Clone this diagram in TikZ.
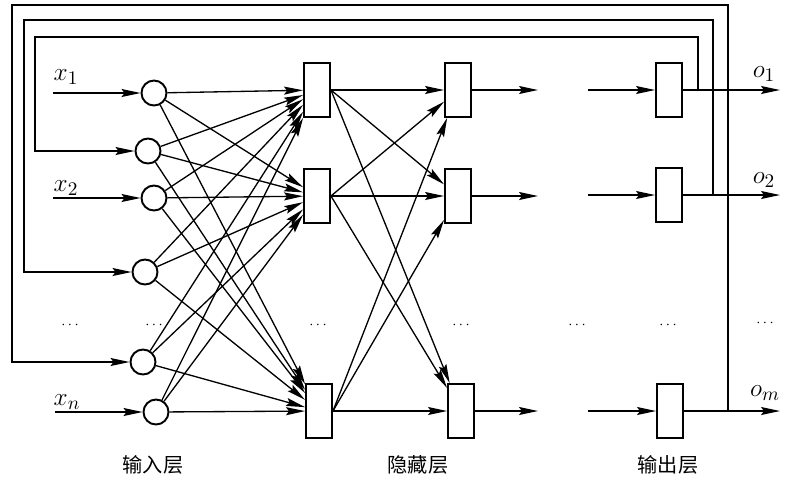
\documentclass[tikz,border=0pt]{standalone}
\usepackage{fontspec}
\newfontfamily\cjk{Noto Sans CJK SC}
\usetikzlibrary{arrows.meta}

\tikzset{
	neuron/.style={draw, circle, line width=1.1pt, minimum size=0.5cm, inner sep=0pt},
	cellbox/.style={draw, rectangle, line width=1.1pt, minimum width=0.52cm, minimum height=1.08cm, inner sep=0pt},
	link/.style={line width=0.75pt, -{Stealth[length=3.8mm,width=1.6mm,inset=0.6mm]}},
	sym/.style={font=\fontsize{15}{17}\selectfont},
	dotlabel/.style={font=\footnotesize},
	layer/.style={font=\cjk\fontsize{11.5}{13}\selectfont}
}

\begin{document}
\begin{tikzpicture}[x=0.02cm, y=-0.02cm]
	
	\useasboundingbox (0,0) rectangle (788,485);
	
	% input layer
	\node [neuron] (i1) at (154,93) {};
	\node [neuron] (i2) at (148,151) {};
	\node [neuron] (i3) at (154,198) {};
	\node [neuron] (i4) at (145,272) {};
	\node [neuron] (i5) at (143,362) {};
	\node [neuron] (i6) at (156,412) {};
	
	% hidden layers
	\node [cellbox] (h1) at (317,90) {};
	\node [cellbox] (h2) at (317,196) {};
	\node [cellbox] (h3) at (319,411) {};
	
	\node [cellbox] (g1) at (458,90) {};
	\node [cellbox] (g2) at (458,196) {};
	\node [cellbox] (g3) at (461,411) {};
	
	% output layer
	\node [cellbox] (y1) at (669,90) {};
	\node [cellbox] (y2) at (669,195) {};
	\node [cellbox] (y3) at (670,411) {};
	
	\coordinate (a1) at (53,93);
	\coordinate (a2) at (53,198);
	\coordinate (a3) at (55,412);
	
	\coordinate (e1) at (538,90);
	\coordinate (e2) at (538,196);
	\coordinate (e3) at (538,411);
	
	\coordinate (s1) at (588,90);
	\coordinate (s2) at (588,195);
	\coordinate (s3) at (588,411);
	
	\coordinate (z1) at (780,90);
	\coordinate (z2) at (780,195);
	\coordinate (z3) at (780,411);
	
	\coordinate (b1) at (698,90);
	\coordinate (b2) at (713,195);
	\coordinate (b3) at (728,411);
	
	\draw [link] (a1) -- (i1);
	\draw [link] (a2) -- (i3);
	\draw [link] (a3) -- (i6);
	
	\foreach \i in {i1,i2,i3,i4,i5,i6}
		\foreach \h in {h1,h2,h3}
			\draw [link] (\i) -- (\h);
	
	\foreach \h in {h1,h2,h3}
		\foreach \g in {g1,g2,g3}
			\draw [link] (\h.east) -- (\g);
	
	\draw [link] (g1) -- (e1);
	\draw [link] (g2) -- (e2);
	\draw [link] (g3) -- (e3);
	
	\draw [link] (s1) -- (y1);
	\draw [link] (s2) -- (y2);
	\draw [link] (s3) -- (y3);
	
	\draw [link] (y1) -- (z1);
	\draw [link] (y2) -- (z2);
	\draw [link] (y3) -- (z3);
	
	% feedback
	\draw [link] (b1) |- (35,37) |- (i2);
	\draw [link] (b2) |- (24,20) |- (i4);
	\draw [link] (b3) |- (12,5) |- (i5);
	
	\node [sym] (x1) at (66,77) {$x_1$};
	\node [sym] (x2) at (66,188) {$x_2$};
	\node [sym] (xn) at (67,402) {$x_n$};
	
	\node [sym] (o1) at (764,74) {$o_1$};
	\node [sym] (o2) at (764,180) {$o_2$};
	\node [sym] (om) at (765,393) {$o_m$};
	
	\node [dotlabel] (d1) at (70,325) {$\cdots$};
	\node [dotlabel] (d2) at (154,325) {$\cdots$};
	\node [dotlabel] (d3) at (318,325) {$\cdots$};
	\node [dotlabel] (d4) at (461,325) {$\cdots$};
	\node [dotlabel] (d5) at (577,325) {$\cdots$};
	\node [dotlabel] (d6) at (668,325) {$\cdots$};
	\node [dotlabel] (d7) at (765,323) {$\cdots$};
	
	\node [layer] (l1) at (153,465) {输入层};
	\node [layer] (l2) at (418,465) {隐藏层};
	\node [layer] (l3) at (668,465) {输出层};
	
\end{tikzpicture}
\end{document}
